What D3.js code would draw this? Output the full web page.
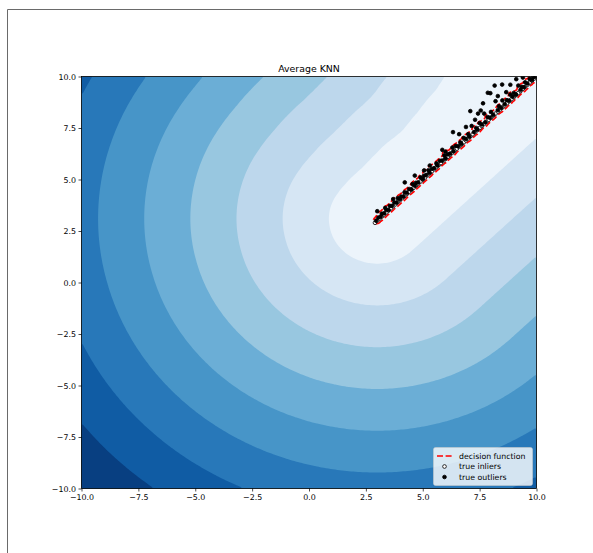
<!DOCTYPE html>
<html>
<head>
<meta charset="utf-8">
<script src="https://cdn.jsdelivr.net/npm/d3@7"></script>
<style>
  body { margin: 0; background: #fff; }
  text { font-family: "DejaVu Sans", sans-serif; fill: #000; }
</style>
</head>
<body>
<div id="chart"></div>
<script>
// training points lying on the diagonal (true inliers)
var inlierX = [2.9, 3.0, 3.1, 3.2, 3.3, 3.4, 3.5, 3.6, 3.7, 3.8, 3.9, 4.0, 4.1, 4.2, 4.3, 4.4, 4.5, 4.6, 4.7, 4.8,
  4.9, 5.0, 5.1, 5.2, 5.3, 5.4, 5.5, 5.6, 5.7, 5.8, 5.9, 6.0, 6.1, 6.2, 6.3, 6.4, 6.5, 6.6, 6.7, 6.8,
  6.9, 7.0, 7.1, 7.2, 7.3, 7.4, 7.5, 7.6, 7.7, 7.8, 7.9, 8.0, 8.1, 8.2, 8.3, 8.4, 8.5, 8.6, 8.7, 8.8,
  8.9, 9.0, 9.1, 9.2, 9.3, 9.4, 9.5, 9.6, 9.7, 9.8, 9.9, 10.0];
var inlierY = [2.9, 3.0, 3.1, 3.2, 3.3, 3.4, 3.5, 3.6, 3.7, 3.8, 3.9, 4.0, 4.1, 4.2, 4.3, 4.4, 4.5, 4.6, 4.7, 4.8,
  4.9, 5.0, 5.1, 5.2, 5.3, 5.4, 5.5, 5.6, 5.7, 5.8, 5.9, 6.0, 6.1, 6.2, 6.3, 6.4, 6.5, 6.6, 6.7, 6.8,
  6.9, 7.0, 7.1, 7.2, 7.3, 7.4, 7.5, 7.6, 7.7, 7.8, 7.9, 8.0, 8.1, 8.2, 8.3, 8.4, 8.5, 8.6, 8.7, 8.8,
  8.9, 9.0, 9.1, 9.2, 9.3, 9.4, 9.5, 9.6, 9.7, 9.8, 9.9, 10.0];

// true outliers, on and just above the diagonal
var outlierX = [3.0, 3.35, 3.7, 4.21, 4.65, 5.06, 5.31, 5.86, 6.0, 6.33, 6.6, 6.9, 7.09, 7.43, 7.65, 7.86,
  7.97, 8.16, 8.49, 8.67, 8.3, 9.11, 8.85, 9.4, 7.55, 7.3,
  3.05, 3.2, 3.4, 3.55, 3.75, 3.9, 4.05, 4.2, 4.4, 4.55, 4.7, 4.9, 5.05, 5.25, 5.4, 5.6, 5.75, 5.95,
  6.1, 6.3, 6.45, 6.65, 6.8, 7.0, 7.15, 7.35, 7.5, 7.7, 7.85, 8.0, 8.2, 8.35, 8.5, 8.7, 8.85, 9.0,
  9.2, 9.35, 9.5, 9.7, 9.85, 9.95,
  2.95, 3.15, 3.3, 3.5, 3.65, 3.85, 4.0, 4.15, 4.3, 4.5, 4.65, 4.8, 5.0, 5.15, 5.3, 5.5, 5.65, 5.85,
  6.0, 6.2, 6.35, 6.55, 6.7, 6.9, 7.05, 7.25, 7.4, 7.6, 7.75, 7.95, 8.1, 8.3, 8.45, 8.6, 8.8, 8.95,
  9.1, 9.3, 9.45, 9.6, 9.8, 9.95];
var outlierY = [3.46, 3.62, 4.05, 4.86, 5.19, 5.44, 5.68, 6.44, 6.35, 7.30, 7.2, 7.55, 8.32, 8.20, 8.70, 9.21,
  9.19, 9.56, 9.61, 9.24, 9.05, 9.87, 9.6, 9.95, 8.35, 7.9,
  3.15, 3.34, 3.52, 3.72, 3.88, 4.10, 4.17, 4.38, 4.54, 4.78, 4.84, 5.10, 5.18, 5.45, 5.52, 5.78, 5.91, 6.17,
  6.22, 6.55, 6.63, 6.80, 7.02, 7.20, 7.60, 7.50, 7.74, 8.20, 8.03, 8.28, 8.80, 8.56, 8.84, 8.85, 9.12, 9.20,
  9.56, 9.50, 9.72, 9.88, 9.95, 10.10,
  3.0, 3.2, 3.36, 3.52, 3.72, 3.88, 4.05, 4.17, 4.36, 4.52, 4.7, 4.86, 5.02, 5.22, 5.33, 5.55, 5.68, 5.92,
  6.03, 6.26, 6.37, 6.61, 6.73, 6.97, 7.08, 7.3, 7.43, 7.67, 7.78, 8.0, 8.14, 8.37, 8.48, 8.66, 8.83, 9.02,
  9.13, 9.36, 9.48, 9.66, 9.83, 10.0];

var tickValues = [-10, -7.5, -5, -2.5, 0, 2.5, 5, 7.5, 10];
var legendLabels = ["decision function", "true inliers", "true outliers"];
var nNeighbors = 5;
var threshold = 0.19;
var nLevels = 10;
var blues = ["#f7fbff", "#deebf7", "#c6dbef", "#9ecae1", "#6baed6", "#4292c6", "#2171b5", "#08519c", "#08306b"];

var width = 593, height = 553;
var margin = {top: 76.5, right: 56.5, bottom: 64.5, left: 81.5};

var svg = d3.select("#chart").append("svg")
  .attr("width", width)
  .attr("height", height);

// outer frame of the screenshot
svg.append("path")
  .attr("d", "M7.5," + (height + 5) + "V9.5H" + (width + 5))
  .attr("fill", "none")
  .attr("stroke", "#6a6a6a")
  .attr("stroke-width", 1);

var x = d3.scaleLinear().domain([-10, 10]).range([margin.left, width - margin.right]);
var y = d3.scaleLinear().domain([-10, 10]).range([height - margin.bottom, margin.top]);

var pts = [];
inlierX.forEach(function(v, i) { pts.push([v, inlierY[i]]); });
outlierX.forEach(function(v, i) { pts.push([v, outlierY[i]]); });

// average distance to the k nearest training points
function knnScore(px, py) {
  var best = [];
  for (var i = 0; i < pts.length; i++) {
    var dx = pts[i][0] - px, dy = pts[i][1] - py;
    var d = Math.sqrt(dx * dx + dy * dy);
    if (best.length < nNeighbors || d < best[best.length - 1]) {
      var j = best.length < nNeighbors ? best.length : best.length - 1;
      while (j > 0 && best[j - 1] > d) { best[j] = best[j - 1]; j--; }
      best[j] = d;
    }
  }
  return d3.mean(best);
}

function grid(x0, x1, y0, y1, n, sign) {
  var sx = (x1 - x0) / n, sy = (y1 - y0) / n, vals = new Float64Array(n * n);
  for (var j = 0; j < n; j++) {
    for (var i = 0; i < n; i++) {
      vals[j * n + i] = sign * knnScore(x0 + (i + 0.5) * sx, y1 - (j + 0.5) * sy);
    }
  }
  var proj = d3.geoTransform({
    point: function(gx, gy) { this.stream.point(x(x0 + gx * sx), y(y1 - gy * sy)); }
  });
  return {values: vals, path: d3.geoPath(proj), n: n};
}

svg.append("clipPath").attr("id", "clip")
  .append("rect")
  .attr("x", margin.left).attr("y", margin.top)
  .attr("width", x(10) - x(-10)).attr("height", y(-10) - y(10));

var plot = svg.append("g").attr("clip-path", "url(#clip)");

// filled contours of the score
var coarse = grid(-10, 10, -10, 10, 200, 1);
var zmin = d3.min(coarse.values), zmax = d3.max(coarse.values);
var levels = d3.range(nLevels).map(function(i) { return zmin + i * (zmax - zmin) / (nLevels - 1); });
var cmap = d3.scaleLinear()
  .domain(blues.map(function(c, i) { return i / (blues.length - 1); }))
  .range(blues)
  .interpolate(d3.interpolateRgb);
var bandColor = function(i) { return cmap((i + 0.5) / (nLevels - 1)); };

plot.append("rect")
  .attr("x", margin.left).attr("y", margin.top)
  .attr("width", x(10) - x(-10)).attr("height", y(-10) - y(10))
  .attr("fill", bandColor(0));

var filled = d3.contours().size([coarse.n, coarse.n]).thresholds(levels.slice(0, nLevels - 1))(coarse.values);
plot.selectAll(".band")
  .data(filled)
  .enter().append("path")
  .attr("class", "band")
  .attr("d", coarse.path)
  .attr("fill", function(d, i) { return bandColor(i); });

// decision threshold line (negated so the ring does not touch the grid edge)
var fine = grid(2.2, 10.6, 2.2, 10.6, 420, -1);
var line = d3.contours().size([fine.n, fine.n]).thresholds([-threshold])(fine.values);
plot.selectAll(".thr")
  .data(line)
  .enter().append("path")
  .attr("class", "thr")
  .attr("d", fine.path)
  .attr("fill", "none")
  .attr("stroke", "red")
  .attr("stroke-width", 1.7)
  .attr("stroke-dasharray", "6,2.6");

plot.selectAll(".inlier")
  .data(inlierX)
  .enter().append("circle")
  .attr("class", "inlier")
  .attr("cx", function(d) { return x(d); })
  .attr("cy", function(d, i) { return y(inlierY[i]); })
  .attr("r", 1.85)
  .attr("fill", "white")
  .attr("stroke", "black")
  .attr("stroke-width", 0.8);

plot.selectAll(".outlier")
  .data(outlierX)
  .enter().append("circle")
  .attr("class", "outlier")
  .attr("cx", function(d) { return x(d); })
  .attr("cy", function(d, i) { return y(outlierY[i]); })
  .attr("r", 1.85)
  .attr("fill", "black")
  .attr("stroke", "black")
  .attr("stroke-width", 0.8);

// axes
var xAxis = svg.append("g")
  .attr("transform", "translate(0," + y(-10) + ")")
  .call(d3.axisBottom(x).tickValues(tickValues).tickFormat(d3.format(".1f"))
    .tickSizeInner(3).tickSizeOuter(0).tickPadding(2.5));
var yAxis = svg.append("g")
  .attr("transform", "translate(" + x(-10) + ",0)")
  .call(d3.axisLeft(y).tickValues(tickValues).tickFormat(d3.format(".1f"))
    .tickSizeInner(3).tickSizeOuter(0).tickPadding(2.5));
[xAxis, yAxis].forEach(function(a) {
  a.select(".domain").remove();
  a.selectAll("line").attr("stroke", "#000").attr("stroke-width", 0.7);
  a.selectAll("text").attr("font-size", "7.9px").attr("font-family", "DejaVu Sans, sans-serif").attr("fill", "#000");
});

svg.append("rect")
  .attr("x", x(-10)).attr("y", y(10))
  .attr("width", x(10) - x(-10)).attr("height", y(-10) - y(10))
  .attr("fill", "none")
  .attr("stroke", "#000")
  .attr("stroke-width", 0.8);

svg.append("text")
  .attr("x", (x(-10) + x(10)) / 2)
  .attr("y", y(10) - 5)
  .attr("text-anchor", "middle")
  .attr("font-size", "9.4px")
  .text("Average KNN");

// legend
var lg = svg.append("g");
lg.append("rect")
  .attr("x", 433.5).attr("y", 447.5)
  .attr("width", 99).attr("height", 38)
  .attr("rx", 2)
  .attr("fill", "white").attr("fill-opacity", 0.8)
  .attr("stroke", "#ccc").attr("stroke-opacity", 0.8).attr("stroke-width", 0.7);
var rowY = [456, 466.5, 477];
lg.append("line")
  .attr("x1", 437).attr("x2", 452)
  .attr("y1", rowY[0]).attr("y2", rowY[0])
  .attr("stroke", "red").attr("stroke-width", 1.6)
  .attr("stroke-dasharray", "6,2.6");
lg.append("circle")
  .attr("cx", 444.5).attr("cy", rowY[1]).attr("r", 1.85)
  .attr("fill", "white").attr("stroke", "black").attr("stroke-width", 0.8);
lg.append("circle")
  .attr("cx", 444.5).attr("cy", rowY[2]).attr("r", 1.85)
  .attr("fill", "black").attr("stroke", "black").attr("stroke-width", 0.8);
lg.selectAll(".lt")
  .data(legendLabels)
  .enter().append("text")
  .attr("class", "lt")
  .attr("x", 459)
  .attr("y", function(d, i) { return rowY[i]; })
  .attr("dy", "0.35em")
  .attr("font-size", "7.8px")
  .text(function(d) { return d; });
</script>
</body>
</html>
